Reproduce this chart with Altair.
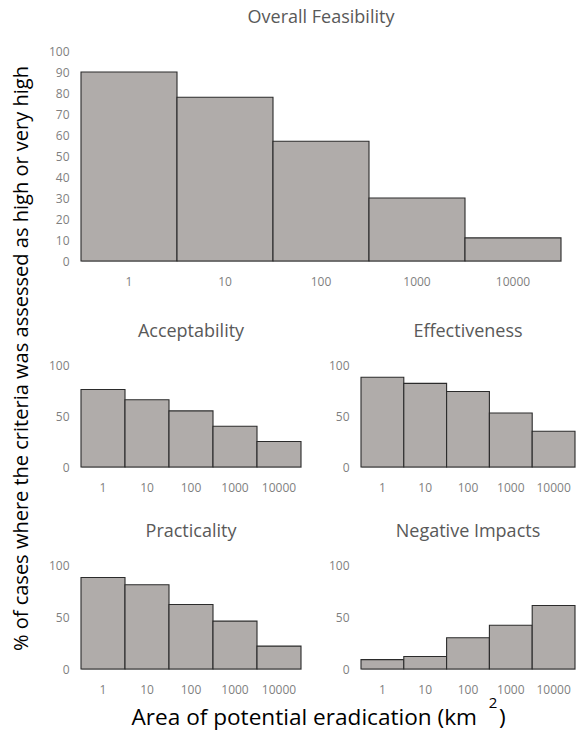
import altair as alt
import pandas as pd

areas = ["1", "10", "100", "1000", "10000"]
overall = [90, 78, 57, 30, 11]
acceptability = [76, 66, 55, 40, 25]
effectiveness = [88, 82, 74, 53, 35]
practicality = [88, 81, 62, 46, 22]
negative_impacts = [9, 12, 30, 42, 61]

y_title = "% of cases where the criteria was assessed as high or very high"
x_title_main = "Area of potential eradication (km"
x_title_sup = "2"
x_title_end = ")"

FONT = "Open Sans"
BAR_FILL = "#b0acaa"
BAR_STROKE = "#2b2b2b"
LABEL_COLOR = "#7f7f7f"
TITLE_COLOR = "#595959"

# Open Sans advance widths (em) used to lay the rotated axis title out word by word
GLYPH_EM = {
    "%": 0.823, " ": 0.260, "a": 0.556, "c": 0.479, "d": 0.613, "e": 0.561,
    "f": 0.336, "g": 0.543, "h": 0.613, "i": 0.258, "o": 0.602, "r": 0.408,
    "s": 0.479, "t": 0.352, "v": 0.500, "w": 0.778, "y": 0.500,
}
Y_TITLE_SIZE = 20
Y_TITLE_START = 600  # bottom end of the rotated title, relative to the top plot's top

PAD_TOP = 43
SVG_W = 568
SVG_H = 727


def panel(title, values, width, height, ticks, offset):
    df = pd.DataFrame({"area": areas, "pct": values})
    return (
        alt.Chart(
            df,
            title=alt.Title(
                title, font=FONT, fontSize=18, fontWeight="normal",
                color=TITLE_COLOR, offset=offset, anchor="middle",
            ),
        )
        .mark_bar(fill=BAR_FILL, stroke=BAR_STROKE, strokeWidth=1.1)
        .encode(
            x=alt.X(
                "area:O", sort=areas,
                scale=alt.Scale(paddingInner=0, paddingOuter=0),
                axis=alt.Axis(
                    title=None, labelAngle=0, ticks=False, domain=True,
                    domainColor="#bfbfbf", labelPadding=15, labelFont=FONT,
                    labelFontSize=12, labelColor=LABEL_COLOR,
                ),
            ),
            y=alt.Y(
                "pct:Q", scale=alt.Scale(domain=[0, 100], nice=False),
                axis=alt.Axis(
                    title=None, values=ticks, grid=False, domain=False,
                    ticks=False, labelPadding=12, labelFont=FONT,
                    labelFontSize=12, labelColor=LABEL_COLOR,
                    minExtent=45, maxExtent=45,
                ),
            ),
        )
        .properties(width=width, height=height)
    )


top = panel("Overall Feasibility", overall, 480, 210, list(range(0, 101, 10)), 18)
acc = panel("Acceptability", acceptability, 220, 102, [0, 50, 100], 18)
eff = panel("Effectiveness", effectiveness, 214, 102, [0, 50, 100], 18)
pra = panel("Practicality", practicality, 220, 104, [0, 50, 100], 18)
neg = panel("Negative Impacts", negative_impacts, 214, 104, [0, 50, 100], 18)

row2 = alt.hconcat(acc, eff, spacing=14)
row3 = alt.hconcat(pra, neg, spacing=14)
upper = alt.vconcat(top, row2, spacing=36)
panels = alt.vconcat(upper, row3, spacing=30)

# x-axis title with a raised "2"
xdf = pd.DataFrame({"t": [x_title_main], "s": [x_title_sup], "e": [x_title_end]})
xbase = alt.Chart(xdf)
xt_main = xbase.mark_text(
    font=FONT, fontSize=22.6, color="#000000", align="right", baseline="alphabetic",
).encode(text="t:N", x=alt.value(396), y=alt.value(30))
xt_sup = xbase.mark_text(
    font=FONT, fontSize=15, color="#000000", align="center", baseline="alphabetic",
).encode(text="s:N", x=alt.value(412), y=alt.value(13))
xt_end = xbase.mark_text(
    font=FONT, fontSize=22.6, color="#000000", align="left", baseline="alphabetic",
).encode(text="e:N", x=alt.value(418), y=alt.value(30))
xt = alt.layer(xt_main, xt_sup, xt_end).properties(width=480, height=37)

left = alt.vconcat(panels, xt, spacing=0)

# rotated y-axis title, one text mark per word
words = y_title.split(" ")
centers = []
cursor = 0.0
for w in words:
    wem = sum(GLYPH_EM.get(ch, 0.55) for ch in w)
    centers.append(Y_TITLE_START - (cursor + wem / 2) * Y_TITLE_SIZE)
    cursor += wem + GLYPH_EM[" "]
ydf = pd.DataFrame({"word": words, "pos": centers})

yt = (
    alt.Chart(ydf)
    .mark_text(
        font=FONT, fontSize=Y_TITLE_SIZE, color="#000000", align="center",
        baseline="middle", angle=270,
    )
    .encode(text="word:N", x=alt.value(14), y=alt.Y("pos:Q", scale=None))
    .properties(width=28, height=620)
)

chart = (
    alt.hconcat(yt, left, spacing=0)
    .properties(
        autosize=alt.AutoSizeParams(type="none"),
        padding={"left": 0, "top": PAD_TOP, "right": SVG_W, "bottom": SVG_H - PAD_TOP},
    )
    .configure_view(strokeWidth=0)
)

chart.save("out.html", embed_options={"renderer": "svg", "actions": False})
